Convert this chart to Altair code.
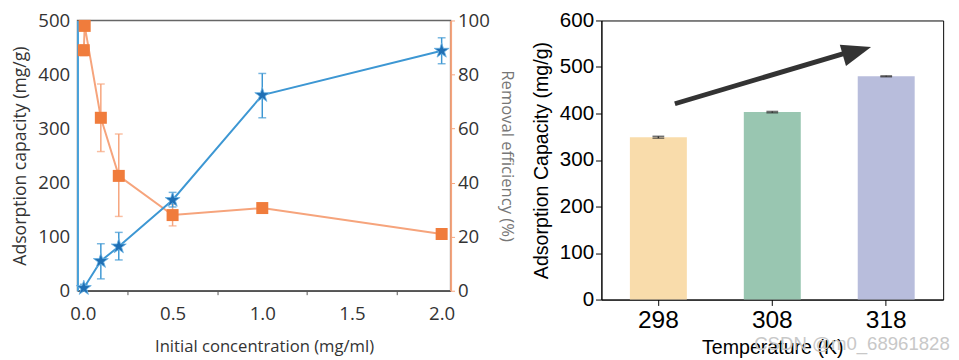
import altair as alt
import pandas as pd

# ---------- data: left panel ----------
conc_cap = [0.005, 0.1, 0.2, 0.5, 1.0, 2.0]
cap = [5, 55, 82, 168, 362, 444]
cap_lo = [0, 22, 57, 155, 320, 420]
cap_hi = [12, 87, 108, 182, 402, 468]

conc_eff = [0.005, 0.01, 0.1, 0.2, 0.5, 1.0, 2.0]
eff = [89, 98, 64, 42.5, 28, 30.6, 21]
eff_lo = [87, 96.5, 51.5, 27.5, 24, 30.6, 21]
eff_hi = [91, 99.5, 76.5, 58, 32, 30.6, 21]

# ---------- data: right panel ----------
temps = ["298", "308", "318"]
temp_cap = [349, 403, 480]
temp_lo = [347, 401.5, 479]
temp_hi = [351, 404.5, 481]
bar_colors = ["#f9dcab", "#99c6b1", "#b8bddc"]

# arrow annotation (y in data units)
arrow_y = [421]
arrow_y2 = [534]
watermark = ["CSDN @m0_68961828"]

BLUE_LINE = "#3d97d3"
BLUE_MARK = "#1f6fb4"
ORANGE_LINE = "#f6a47c"
ORANGE_MARK = "#f07c3c"
LFONT = "Open Sans"
RFONT = "Liberation Sans"

STAR = ("M0,-1L0.225,-0.31L0.951,-0.309L0.364,0.118L0.588,0.809L0,0.382"
        "L-0.588,0.809L-0.364,0.118L-0.951,-0.309L-0.225,-0.31Z")
HEAD = "M-1,-0.75L1,0L-1,0.75Z"

df_cap = pd.DataFrame({"c": conc_cap, "v": cap, "lo": cap_lo, "hi": cap_hi})
df_eff = pd.DataFrame({"c": conc_eff, "v": eff, "lo": eff_lo, "hi": eff_hi})

x_left = alt.X(
    "c:Q",
    scale=alt.Scale(domain=[-0.03, 2.05], nice=False, zero=False),
    axis=alt.Axis(
        values=[0, 0.25, 0.5, 0.75, 1.0, 1.25, 1.5, 1.75, 2.0],
        labelExpr="(datum.value * 100) % 50 == 0 ? format(datum.value, '.1f') : ''",
        tickSize={"condition": {"test": "(datum.value * 100) % 50 == 0", "value": 0}, "value": 4},
        tickColor="#555", domainColor="#555", domainWidth=1.5,
        labelFont=LFONT, labelFontSize=19, labelColor="#333", labelPadding=14,
        title="Initial concentration (mg/ml)", titleFont=LFONT, titleFontSize=17,
        titleFontWeight="normal", titleColor="#333", titlePadding=16, grid=False,
    ),
)

y_cap = alt.Y(
    "v:Q",
    scale=alt.Scale(domain=[0, 500], nice=False),
    axis=alt.Axis(
        values=[0, 100, 200, 300, 400, 500], ticks=False,
        domainColor="#4aa3dc", domainWidth=2,
        labelFont=LFONT, labelFontSize=19, labelColor="#333", labelPadding=8,
        title="Adsorption capacity (mg/g)", titleFont=LFONT, titleFontSize=18,
        titleFontWeight="normal", titleColor="#333", titlePadding=9, grid=False,
    ),
)

y_eff = alt.Y(
    "v:Q",
    scale=alt.Scale(domain=[0, 100], nice=False),
    axis=alt.Axis(
        orient="right", values=[0, 10, 20, 30, 40, 50, 60, 70, 80, 90, 100],
        labelExpr="datum.value % 20 == 0 ? datum.value : ''",
        tickSize={"condition": {"test": "datum.value % 20 != 0", "value": 2}, "value": 4},
        tickColor=ORANGE_LINE, domainColor=ORANGE_LINE, domainWidth=2,
        labelFont=LFONT, labelFontSize=19, labelColor="#333", labelPadding=3,
        title="Removal efficiency (%)", titleFont=LFONT, titleFontSize=17,
        titleFontWeight="normal", titleColor="#777", titlePadding=8, grid=False,
    ),
)

base_cap = alt.Chart(df_cap)
blue = alt.layer(
    base_cap.mark_line(color=BLUE_LINE, strokeWidth=2).encode(x=x_left, y=y_cap),
    base_cap.mark_rule(color=BLUE_LINE, strokeWidth=1.5).encode(x="c:Q", y="lo:Q", y2="hi:Q"),
    base_cap.mark_tick(color=BLUE_LINE, orient="horizontal", size=8, thickness=1.5).encode(x="c:Q", y="lo:Q"),
    base_cap.mark_tick(color=BLUE_LINE, orient="horizontal", size=8, thickness=1.5).encode(x="c:Q", y="hi:Q"),
    base_cap.mark_point(shape=STAR, size=260, filled=True, color=BLUE_MARK, opacity=1,
                        stroke="#6ab4e4", strokeWidth=0.8).encode(x="c:Q", y="v:Q"),
)

base_eff = alt.Chart(df_eff)
orange = alt.layer(
    base_eff.mark_line(color=ORANGE_LINE, strokeWidth=2).encode(x=x_left, y=y_eff),
    base_eff.mark_rule(color=ORANGE_LINE, strokeWidth=1.5).encode(x="c:Q", y="lo:Q", y2="hi:Q"),
    base_eff.mark_tick(color=ORANGE_LINE, orient="horizontal", size=8, thickness=1.5).encode(x="c:Q", y="lo:Q"),
    base_eff.mark_tick(color=ORANGE_LINE, orient="horizontal", size=8, thickness=1.5).encode(x="c:Q", y="hi:Q"),
    base_eff.mark_point(shape="square", size=150, filled=True, color=ORANGE_MARK, opacity=1).encode(x="c:Q", y="v:Q"),
)

left = alt.layer(orange, blue).resolve_scale(y="independent").properties(
    width=381, height=276, view=alt.ViewBackground(stroke="#666", strokeWidth=1.5)
)

# ---------- right panel ----------
df_bar = pd.DataFrame({"t": temps, "v": temp_cap, "lo": temp_lo, "hi": temp_hi})
x_right = alt.X(
    "t:N", sort=temps,
    scale=alt.Scale(paddingInner=0.5, paddingOuter=0.25),
    axis=alt.Axis(
        labelAngle=0, tickSize=6, tickColor="#000", domainColor="#000", domainWidth=1,
        labelFont=RFONT, labelFontSize=25, labelColor="#000", labelPadding=3,
        title="Temperature (K)", titleFont=RFONT, titleFontSize=20,
        titleFontWeight="normal", titleColor="#000", titlePadding=5,
    ),
)
y_right = alt.Y(
    "v:Q",
    scale=alt.Scale(domain=[0, 600], nice=False),
    axis=alt.Axis(
        values=[0, 50, 100, 150, 200, 250, 300, 350, 400, 450, 500, 550, 600],
        labelExpr="datum.value % 100 == 0 ? datum.value : ''",
        tickSize={"condition": {"test": "datum.value % 100 != 0", "value": 3}, "value": 6},
        tickColor="#000", domainColor="#000",
        labelFont=RFONT, labelFontSize=21, labelColor="#000", labelPadding=2,
        title="Adsorption Capacity (mg/g)", titleFont=RFONT, titleFontSize=20,
        titleFontWeight="normal", titleColor="#000", titlePadding=8, grid=False,
    ),
)

base_bar = alt.Chart(df_bar)
bars = base_bar.mark_bar().encode(
    x=x_right, y=y_right,
    color=alt.Color("t:N", scale=alt.Scale(domain=temps, range=bar_colors), legend=None),
)
err_r = base_bar.mark_rule(color="#333", strokeWidth=1.5).encode(x="t:N", y="lo:Q", y2="hi:Q")
cap_lo_t = base_bar.mark_tick(color="#333", orient="horizontal", size=12, thickness=1.5).encode(x="t:N", y="lo:Q")
cap_hi_t = base_bar.mark_tick(color="#333", orient="horizontal", size=12, thickness=1.5).encode(x="t:N", y="hi:Q")

df_arrow = pd.DataFrame({"y": arrow_y, "y2": arrow_y2})
arrow_line = alt.Chart(df_arrow).mark_rule(color="#333", strokeWidth=5).encode(
    x=alt.value(75), x2=alt.value(256), y="y:Q", y2="y2:Q"
)
arrow_head = alt.Chart(df_arrow).mark_point(
    shape=HEAD, size=900, filled=True, color="#333", opacity=1, angle=343.7
).encode(x=alt.value(261), y="y2:Q")

df_wm = pd.DataFrame({"w": watermark})
wm = alt.Chart(df_wm).mark_text(
    align="left", baseline="middle", font=RFONT, fontSize=19, color="#c8c8c8"
).encode(x=alt.value(156), y=alt.value(330), text="w:N")

right = alt.layer(bars, err_r, cap_lo_t, cap_hi_t, arrow_line, arrow_head, wm).properties(
    width=349, height=285, view=alt.ViewBackground(stroke="#000", strokeWidth=1)
)

chart = alt.hconcat(left, right, spacing=15).properties(
    padding={"left": 2, "top": -3, "right": 0, "bottom": 0}
).configure(background="white")

chart.save("out.html", embed_options={"renderer": "svg", "actions": False})
